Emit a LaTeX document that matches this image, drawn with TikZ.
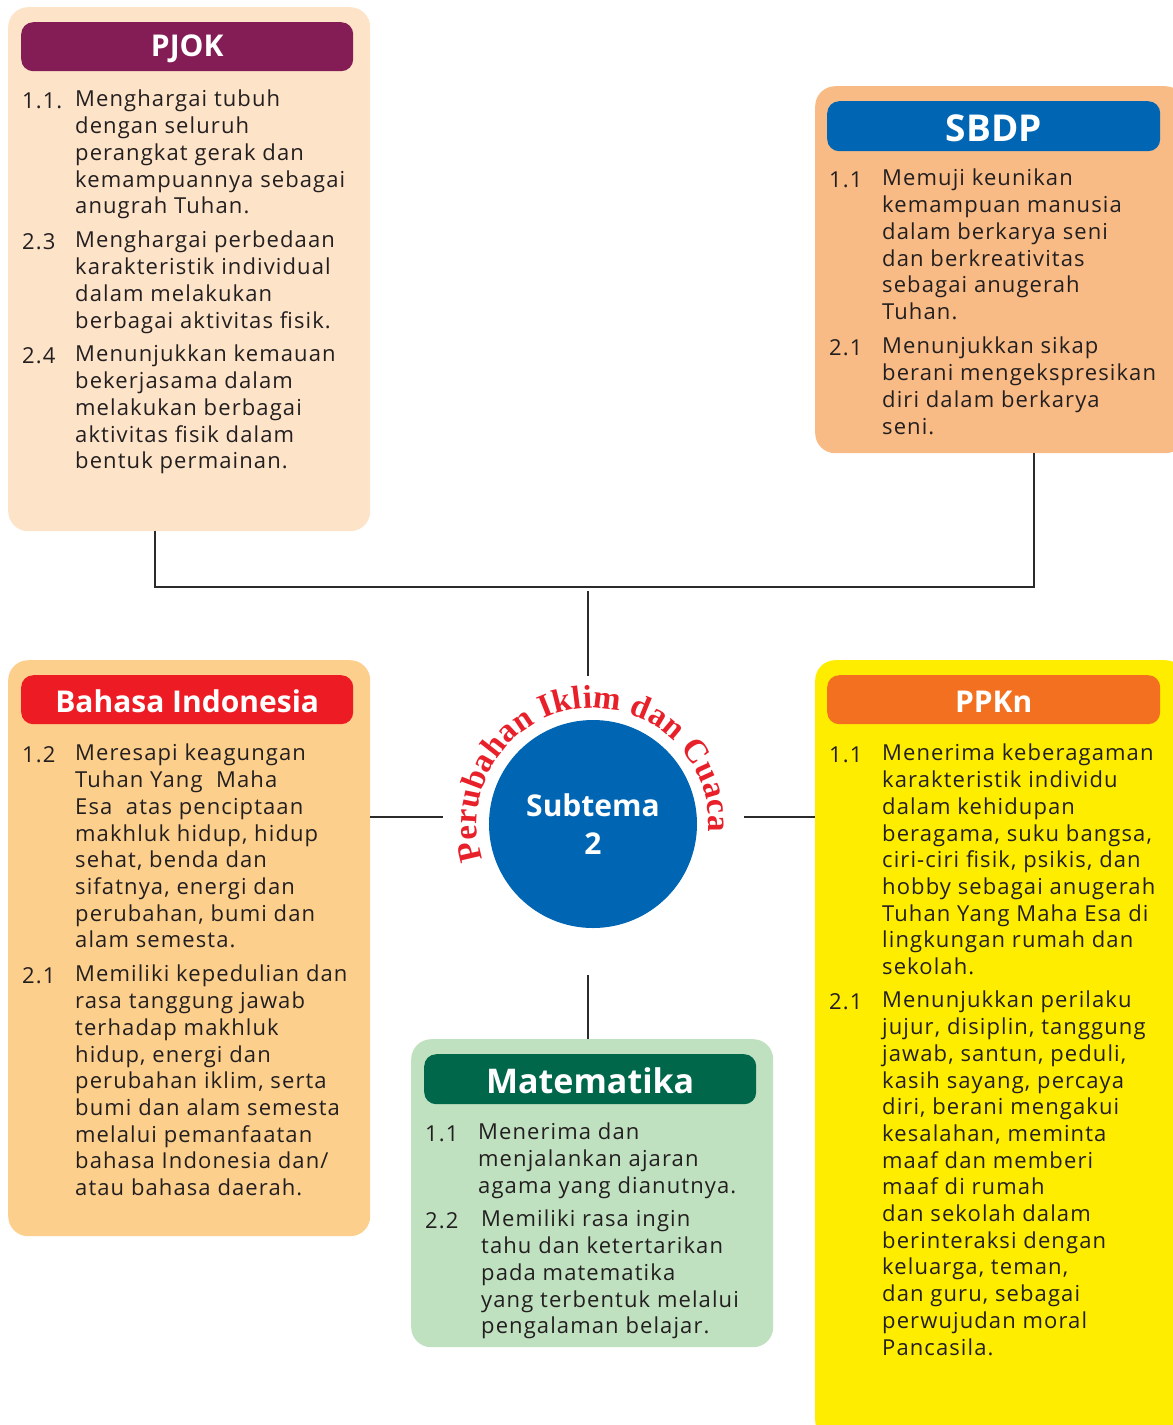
\documentclass[tikz,border=0pt]{standalone}
\usepackage{fontspec}
\setmainfont{Open Sans}[LetterSpace=5]
\newfontfamily\headfont{Open Sans}
\newfontfamily\arcfont{Liberation Serif}
\usetikzlibrary{decorations.text}

\definecolor{ink}{HTML}{231F20}
\definecolor{linegray}{HTML}{2B2B2B}
\definecolor{pjokbg}{HTML}{FDE3C8}
\definecolor{pjokhd}{HTML}{841D55}
\definecolor{sbdpbg}{HTML}{F9BB85}
\definecolor{tema}{HTML}{0066B3}
\definecolor{bindbg}{HTML}{FDCF8C}
\definecolor{bindhd}{HTML}{ED1C24}
\definecolor{ppknbg}{HTML}{FFED00}
\definecolor{ppknhd}{HTML}{F37021}
\definecolor{matbg}{HTML}{C0E1C0}
\definecolor{mathd}{HTML}{00674B}
\definecolor{arcred}{HTML}{E8202A}

\newcommand\body{\fontsize{22}{26.7}\selectfont}

\tikzset{
  box/.style={rounded corners=20,inner sep=0,anchor=north west},
  head/.style={rounded corners=12,inner sep=0,anchor=north west,text height=25,
    text=white,font=\headfont\bfseries\fontsize{30}{36}\selectfont},
  num/.style={anchor=north west,inner sep=0,yshift=-4,text=ink,font=\body,
    execute at begin node=\strut},
  txt/.style={num,align=left},
  link/.style={draw=linegray,line width=2.5}
}

\begin{document}
\begin{tikzpicture}[x=1pt,y=1pt]
  \useasboundingbox (0,0) rectangle (1173,-1425);
  \clip (0,0) rectangle (1173,-1425);
  \fill[white] (0,0) rectangle (1173,-1425);

  % PJOK
  \node[box,fill=pjokbg,minimum width=362,minimum height=524] (pjok) at (8,-7) {};
  \node[head,fill=pjokhd,minimum width=332,minimum height=49] (pjokt) at (21,-22) {PJOK};
  \node[num] (pjok1n) at (22,-86) {1.1.};
  \node[txt] (pjok1) at (75,-86) {Menghargai tubuh\\dengan seluruh\\perangkat gerak dan\\kemampuannya sebagai\\anugrah Tuhan.};
  \node[num] (pjok2n) at (22,-227) {2.3};
  \node[txt] (pjok2) at (75,-227) {Menghargai perbedaan\\karakteristik individual\\dalam melakukan\\berbagai aktivitas fisik.};
  \node[num] (pjok3n) at (22,-341) {2.4};
  \node[txt] (pjok3) at (75,-341) {Menunjukkan kemauan\\bekerjasama dalam\\melakukan berbagai\\aktivitas fisik dalam\\bentuk permainan.};

  % SBDP
  \node[box,fill=sbdpbg,minimum width=370,minimum height=367] (sbdp) at (815,-86) {};
  \node[head,fill=tema,minimum width=333,minimum height=50,text height=31,
    font=\headfont\bfseries\fontsize{37}{42}\selectfont] (sbdpt) at (827,-101) {SBDP};
  \node[num] (sbdp1n) at (829,-165) {1.1};
  \node[txt] (sbdp1) at (882,-165) {Memuji keunikan\\kemampuan manusia\\dalam berkarya seni\\dan berkreativitas\\sebagai anugerah\\Tuhan.};
  \node[num] (sbdp2n) at (829,-333) {2.1};
  \node[txt] (sbdp2) at (882,-333) {Menunjukkan sikap\\berani mengekspresikan\\diri dalam berkarya\\seni.};

  % Bahasa Indonesia
  \node[box,fill=bindbg,minimum width=362,minimum height=576] (bind) at (8,-660) {};
  \node[head,fill=bindhd,minimum width=332,minimum height=49] (bindt) at (21,-675) {Bahasa Indonesia};
  \node[num] (bind1n) at (22,-740) {1.2};
  \node[txt] (bind1) at (75,-740) {Meresapi keagungan\\Tuhan Yang\ \ Maha\\Esa\ \ atas penciptaan\\makhluk hidup, hidup\\sehat, benda dan\\sifatnya, energi dan\\perubahan, bumi dan\\alam semesta.};
  \node[num] (bind2n) at (22,-961) {2.1};
  \node[txt] (bind2) at (75,-961) {Memiliki kepedulian dan\\rasa tanggung jawab\\terhadap makhluk\\hidup, energi dan\\perubahan iklim, serta\\bumi dan alam semesta\\melalui pemanfaatan\\bahasa Indonesia dan/\\atau bahasa daerah.};

  % PPKn
  \node[box,fill=ppknbg,minimum width=370,minimum height=780] (ppkn) at (815,-660) {};
  \node[head,fill=ppknhd,minimum width=333,minimum height=49] (ppknt) at (827,-675) {PPKn};
  \node[num] (ppkn1n) at (829,-740) {1.1};
  \node[txt] (ppkn1) at (882,-740) {Menerima keberagaman\\karakteristik individu\\dalam kehidupan\\beragama, suku bangsa,\\ciri-ciri fisik, psikis, dan\\hobby sebagai anugerah\\Tuhan Yang Maha Esa di\\lingkungan rumah dan\\sekolah.};
  \node[num] (ppkn2n) at (829,-987) {2.1};
  \node[txt] (ppkn2) at (882,-987) {Menunjukkan perilaku\\jujur, disiplin, tanggung\\jawab, santun, peduli,\\kasih sayang, percaya\\diri, berani mengakui\\kesalahan, meminta\\maaf dan memberi\\maaf di rumah\\dan sekolah dalam\\berinteraksi dengan\\keluarga, teman,\\dan guru, sebagai\\perwujudan moral\\Pancasila.};

  % Matematika
  \node[box,fill=matbg,minimum width=362,minimum height=308] (mat) at (411,-1039) {};
  \node[head,fill=mathd,minimum width=332,minimum height=50,text height=29,
    font=\headfont\bfseries\fontsize{34}{40}\selectfont] (matt) at (424,-1054) {Matematika};
  \node[num] (mat1n) at (425,-1119) {1.1};
  \node[txt] (mat1) at (478,-1119) {Menerima dan\\menjalankan ajaran\\agama yang dianutnya.};
  \node[num] (mat2n) at (425,-1206) {2.2};
  \node[txt] (mat2) at (481,-1206) {Memiliki rasa ingin\\tahu dan ketertarikan\\pada matematika\\yang terbentuk melalui\\pengalaman belajar.};

  % subtema
  \node[circle,fill=tema,minimum size=208,inner sep=0,text=white,align=center,
    font=\headfont\bfseries\fontsize{30}{38}\selectfont] (hub) at (593,-824) {Subtema\\2};
  \path[decorate,decoration={text along path,text align=fit to path,
    text={|\arcfont\bfseries\fontsize{33}{33}\selectfont\color{arcred}|Perubahan Iklim dan Cuaca}}]
    ([shift={(198:116)}]hub.center) arc[start angle=198,end angle=-4,radius=116];

  % connectors
  \coordinate (top) at (588,-587);
  \coordinate (mid) at (588,-817);
  \draw[link] ([xshift=-34]pjok.south) |- (top) -| ([xshift=34]sbdp.south);
  \draw[link,shorten <=4,shorten >=44] (top) -- (hub.north -| top);
  \draw[link,shorten >=46] (bind.east |- mid) -- (hub.west |- mid);
  \draw[link,shorten >=47] (ppkn.west |- mid) -- (hub.east |- mid);
  \draw[link,shorten >=47] (mat.north -| mid) -- (hub.south -| mid);
\end{tikzpicture}
\end{document}
